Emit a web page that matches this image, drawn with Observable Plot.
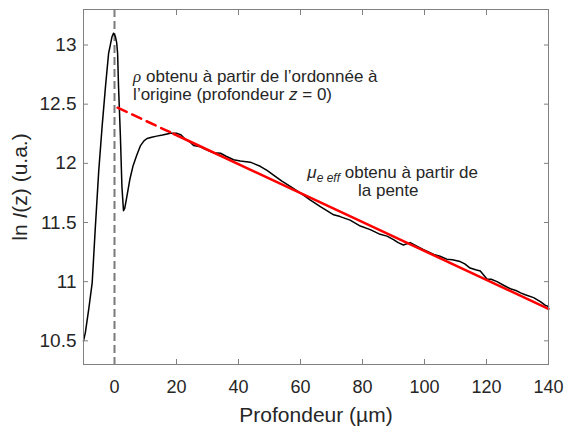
<!DOCTYPE html>
<html>
<head>
<meta charset="utf-8">
<script src="https://cdn.jsdelivr.net/npm/d3@7"></script>
<script src="https://cdn.jsdelivr.net/npm/@observablehq/plot@0.6"></script>
<style>
  html, body { margin: 0; padding: 0; background: #fff; }
</style>
</head>
<body>
<div id="chart"></div>
<script>
// Measured profile: depth (µm) and ln I(z)
const depth = [-10, -9.4, -8.3, -7.2, -6.2, -5.1, -4.0, -2.9, -1.9, -0.8, -0.3, 0.3, 0.7, 1.0, 1.3, 1.9, 2.4, 2.9, 3.3, 4.0,
  5.0, 6.0, 7.2, 8.4, 9.5, 10.5, 12.0, 13.6, 15.5, 18.0, 20.0, 21.5, 23.0, 23.8, 24.6, 25.5, 27.7, 30.0, 32.0, 34.2,
  36.0, 38.4, 40.6, 43.8, 47.0, 49.2, 51.3, 54.0, 56.7, 59.9, 63.2, 66.4, 68.5, 70.7, 72.8, 76.0, 79.3, 82.5, 85.7, 87.9,
  90.0, 91.5, 93.2, 95.4, 97.5, 99.7, 103.0, 105.0, 107.2, 109.0, 111.5, 113.0, 114.7, 116.5, 118.0, 120.2, 121.5, 123.4, 125.5, 127.7,
  129.5, 131.0, 132.5, 135.2, 137.5, 139.0, 140.0];
const lnI = [10.50, 10.57, 10.77, 10.99, 11.45, 11.93, 12.31, 12.65, 12.93, 13.07, 13.10, 13.07, 13.02, 12.93, 12.65, 12.23, 11.80, 11.60, 11.62, 11.72,
  11.87, 11.98, 12.07, 12.15, 12.19, 12.21, 12.22, 12.23, 12.24, 12.255, 12.255, 12.24, 12.20, 12.19, 12.175, 12.15, 12.14, 12.11, 12.09, 12.085,
  12.06, 12.03, 12.02, 12.01, 11.975, 11.94, 11.90, 11.85, 11.805, 11.75, 11.69, 11.635, 11.60, 11.565, 11.55, 11.52, 11.47, 11.44, 11.40, 11.385,
  11.355, 11.33, 11.31, 11.33, 11.30, 11.27, 11.23, 11.215, 11.19, 11.185, 11.17, 11.15, 11.115, 11.10, 11.09, 11.02, 11.02, 11.00, 10.97, 10.94,
  10.925, 10.905, 10.89, 10.865, 10.83, 10.80, 10.79];

// Linear fit (read endpoints): dashed extrapolation then solid fit
const fitDashedX = [1, 19];
const fitDashedY = [12.47, 12.25];
const fitSolidX = [19, 140];
const fitSolidY = [12.25, 10.77];

// Axis ticks
const xTicks = [0, 20, 40, 60, 80, 100, 120, 140];
const yTicks = [10.5, 11, 11.5, 12, 12.5, 13];

// Annotations
const annotX = [6.0, 6.0, 62.2, 88.3];
const annotY = [12.73, 12.58, 11.92, 11.77];
const annotText = [
  "ρ obtenu à partir de l’ordonnée à",
  "l’origine (profondeur z = 0)",
  "μe eff obtenu à partir de",
  "la pente"
];
const annotAnchor = ["start", "start", "start", "middle"];

const curve = depth.map((d, i) => ({x: d, y: lnI[i]}));
const fitDashed = fitDashedX.map((d, i) => ({x: d, y: fitDashedY[i]}));
const fitSolid = fitSolidX.map((d, i) => ({x: d, y: fitSolidY[i]}));
const annots = annotText.map((t, i) => ({x: annotX[i], y: annotY[i], text: t, anchor: annotAnchor[i]}));

const axisGray = "#808080";
const textColor = "#262626";

const chart = Plot.plot({
  width: 568,
  height: 434,
  marginLeft: 83,
  marginRight: 20,
  marginTop: 9,
  marginBottom: 70,
  style: {fontFamily: "'Liberation Sans', Arial, sans-serif", fontSize: "18px", background: "#fff", color: textColor},
  x: {domain: [-10, 140]},
  y: {domain: [10.3, 13.3]},
  marks: [
    Plot.ruleX([0], {stroke: "#7a7a7a", strokeWidth: 2, strokeDasharray: "8,4"}),
    Plot.line(curve, {x: "x", y: "y", stroke: "black", strokeWidth: 1.5}),
    Plot.line(fitDashed, {x: "x", y: "y", stroke: "#ff0000", strokeWidth: 2.5, strokeDasharray: "10,6"}),
    Plot.line(fitSolid, {x: "x", y: "y", stroke: "#ff0000", strokeWidth: 2.5}),
    Plot.text(annots.filter(d => d.anchor === "start"), {x: "x", y: "y", text: "text", textAnchor: "start", fontSize: 17, fill: textColor}),
    Plot.text(annots.filter(d => d.anchor === "middle"), {x: "x", y: "y", text: "text", textAnchor: "middle", fontSize: 17, fill: textColor}),
    Plot.frame({stroke: axisGray}),
    Plot.axisX({anchor: "bottom", ticks: xTicks, tickSize: -5, tickPadding: 21, stroke: axisGray, fill: textColor,
      tickFormat: d => `${d}`,
      label: "Profondeur (µm)", labelAnchor: "center", labelOffset: 57, labelArrow: "none", fontSize: 18}),
    Plot.axisX({anchor: "top", ticks: xTicks, tickSize: -5, stroke: axisGray, tickFormat: () => "", label: null}),
    Plot.axisY({anchor: "left", ticks: yTicks, tickSize: -5, tickPadding: 12, stroke: axisGray, fill: textColor,
      tickFormat: d => `${d}`,
      label: "ln I(z) (u.a.)", labelAnchor: "center", labelOffset: 71, labelArrow: "none", fontSize: 19}),
    Plot.axisY({anchor: "right", ticks: yTicks, tickSize: -5, stroke: axisGray, tickFormat: () => "", label: null})
  ]
});

document.getElementById("chart").appendChild(chart);

// Rich text (italics, subscripts) applied to the rendered text elements
const NS = "http://www.w3.org/2000/svg";
function richText(el, parts) {
  el.textContent = "";
  for (const p of parts) {
    const t = document.createElementNS(NS, "tspan");
    t.textContent = p.t;
    if (p.italic) t.setAttribute("font-style", "italic");
    if (p.family) t.setAttribute("font-family", p.family);
    if (p.size) t.setAttribute("font-size", p.size);
    if (p.dy) t.setAttribute("dy", p.dy);
    el.appendChild(t);
  }
}
d3.select(chart).selectAll("text").each(function () {
  const s = this.textContent;
  if (s === "ln I(z) (u.a.)") {
    this.setAttribute("font-size", "21");
    richText(this, [{t: "ln "}, {t: "I", italic: true}, {t: "(z) (u.a.)"}]);
  } else if (s === "Profondeur (µm)") {
    this.setAttribute("font-size", "21");
  } else if (s.startsWith("ρ")) {
    richText(this, [{t: "ρ", italic: true, family: "'Liberation Serif', serif"}, {t: s.slice(1)}]);
  } else if (s.startsWith("l’origine")) {
    richText(this, [{t: "l’origine (profondeur "}, {t: "z", italic: true}, {t: " = 0)"}]);
  } else if (s.startsWith("μe eff")) {
    richText(this, [{t: "μ", italic: true}, {t: "e eff", italic: true, size: 12, dy: 4}, {t: s.slice(6), dy: -4}]);
  }
});
</script>
</body>
</html>
